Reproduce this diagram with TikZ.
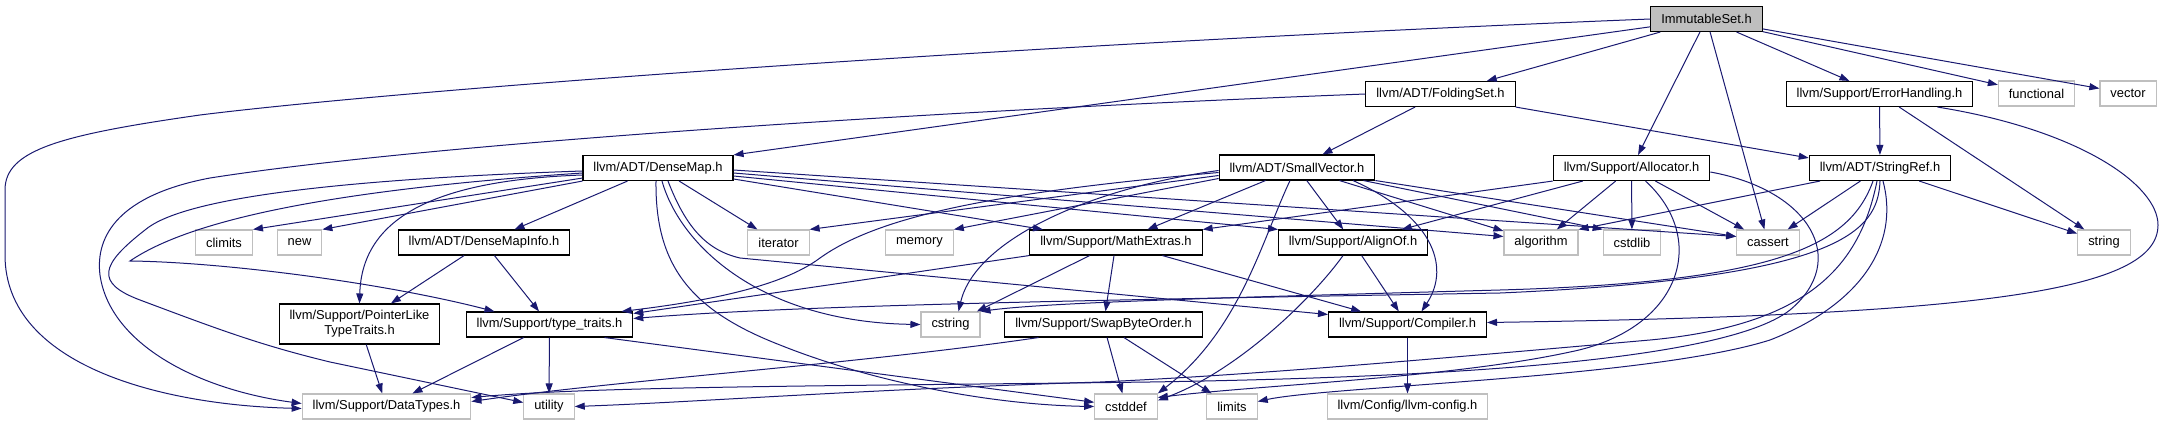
\documentclass[tikz,border=0pt]{standalone}
\usepackage{fontspec}
\setmainfont{Liberation Sans}
\usepackage{xcolor}
\usepackage{tikz}
\usetikzlibrary{arrows.meta}

\definecolor{edgeblue}{HTML}{191970}
\definecolor{sysgray}{HTML}{BFBFBF}

\begin{document}
\begin{tikzpicture}[
  x=1pt, y=-1pt,
  every node/.style={font=\fontsize{12.9}{15}\selectfont, inner xsep=10.5pt, inner ysep=0pt, minimum height=25pt, line width=1.1pt},
  hdr/.style={draw=black},
  sys/.style={draw=sysgray},
  dep/.style={-{Triangle[length=10pt,width=7pt]}, draw=edgeblue, fill=none, line width=1pt}
]
  \useasboundingbox (0,0) rectangle (2164,425);

  \node[hdr, fill=sysgray] (imm) at (1706.5,19) {ImmutableSet.h};
  \node[hdr] (folding) at (1440.5,94) {llvm/ADT/FoldingSet.h};
  \node[hdr] (errh) at (1879.5,94) {llvm/Support/ErrorHandling.h};
  \node[sys] (functional) at (2036.5,93.5) {functional};
  \node[sys] (vector) at (2128,93.5) {vector};
  \node[hdr] (densemap) at (658,168) {llvm/ADT/DenseMap.h};
  \node[hdr] (smallvec) at (1297,167.5) {llvm/ADT/SmallVector.h};
  \node[hdr] (alloc) at (1631.5,168) {llvm/Support/Allocator.h};
  \node[hdr] (stringref) at (1880,168) {llvm/ADT/StringRef.h};
  \node[sys] (climits) at (224,242.5) {climits};
  \node[sys] (new) at (299.5,242.5) {new};
  \node[hdr] (densemapinfo) at (484,242.5) {llvm/ADT/DenseMapInfo.h};
  \node[sys] (iterator) at (778.5,242.5) {iterator};
  \node[sys] (memory) at (919.5,242.5) {memory};
  \node[hdr] (mathextras) at (1116,242.5) {llvm/Support/MathExtras.h};
  \node[hdr] (alignof) at (1353,242.5) {llvm/Support/AlignOf.h};
  \node[sys] (algorithm) at (1541,242.5) {algorithm};
  \node[sys] (cstdlib) at (1632,242.5) {cstdlib};
  \node[sys] (cassert) at (1768,242.5) {cassert};
  \node[sys] (string) at (2104,242.5) {string};
  \node[hdr, align=center, minimum height=40pt] (pointerlike) at (359.5,324) {llvm/Support/PointerLike\\TypeTraits.h};
  \node[hdr] (typetraits) at (549.5,324.5) {llvm/Support/type\_traits.h};
  \node[sys] (cstring) at (950.5,324.5) {cstring};
  \node[hdr] (swapbyte) at (1103.5,324.5) {llvm/Support/SwapByteOrder.h};
  \node[hdr] (compiler) at (1407.5,324.5) {llvm/Support/Compiler.h};
  \node[sys] (datatypes) at (386.5,406.5) {llvm/Support/DataTypes.h};
  \node[sys] (utility) at (549,406.5) {utility};
  \node[sys] (cstddef) at (1126,406.5) {cstddef};
  \node[sys] (limits) at (1232,406.5) {limits};
  \node[sys] (llvmconfig) at (1407.5,406.5) {llvm/Config/llvm-config.h};

  \draw[dep] (imm.west) .. controls (1000,45) and (400,90) .. (200,115) .. controls (60,135) and (5,150) .. (5,190) -- (5,255) .. controls (5,365) and (160,405) .. ([yshift=-2]datatypes.west);
  \draw[dep] (imm) -- (densemap.north east);
  \draw[dep] (imm) -- (folding);
  \draw[dep] (imm) -- (alloc);
  \draw[dep] (imm) -- (cassert);
  \draw[dep] (imm) -- (errh);
  \draw[dep] (imm) -- (functional);
  \draw[dep] (imm) -- (vector);

  \draw[dep] (folding.west) .. controls (900,112) and (420,145) .. (210,178) .. controls (120,195) and (95,235) .. (100,275) .. controls (110,345) and (200,390) .. ([yshift=3]datatypes.west);
  \draw[dep] (folding) -- (smallvec);
  \draw[dep] (folding.south east) -- ([yshift=-3]stringref.north west);

  \draw[dep] (errh) -- (stringref);
  \draw[dep] (errh) -- (string);
  \draw[dep] ([xshift=58]errh.south) .. controls (2080,130) and (2158,185) .. (2158,225) .. controls (2158,290) and (1990,315) .. ([yshift=2]compiler.east);

  \draw[dep] ([yshift=3]densemap.south west) -- (climits.north east);
  \draw[dep] (densemap.south west) -- (new.north east);
  \draw[dep] (densemap) -- (densemapinfo);
  \draw[dep] ([yshift=-7]densemap.west) .. controls (440,180) and (362,215) .. (pointerlike.north);
  \draw[dep] ([yshift=-5]densemap.west) .. controls (330,190) and (190,220) .. (130,261) .. controls (220,262) and (380,282) .. ([xshift=-55]typetraits.north);
  \draw[dep] ([yshift=-3]densemap.west) .. controls (320,180) and (180,200) .. (145,230) .. controls (100,265) and (95,283) .. (140,300) .. controls (220,330) and (260,345) .. (330,362) -- ([yshift=4]utility.west);
  \draw[dep] ([xshift=-2]densemap.south) .. controls (655,265) and (690,310) .. (780,345) .. controls (880,385) and (1000,405) .. (cstddef.west);
  \draw[dep] ([xshift=4]densemap.south) .. controls (680,245) and (760,322) .. (cstring.west);
  \draw[dep] ([xshift=10]densemap.south) .. controls (685,225) and (705,250) .. (740,258) -- ([yshift=10]compiler.west);
  \draw[dep] (densemap) -- (iterator);
  \draw[dep] ([yshift=-11]densemap.east) -- ([xshift=-73]mathextras.north);
  \draw[dep] ([yshift=-8]densemap.east) -- ([xshift=-75]alignof.north);
  \draw[dep] ([yshift=-5]densemap.east) -- ([yshift=6]algorithm.west);
  \draw[dep] ([yshift=-2]densemap.east) -- ([yshift=6]cassert.west);

  \draw[dep] (densemapinfo) -- (pointerlike);
  \draw[dep] (densemapinfo) -- (typetraits);
  \draw[dep] (pointerlike) -- (datatypes);
  \draw[dep] (typetraits) -- (datatypes);
  \draw[dep] (typetraits) -- (utility);
  \draw[dep] ([xshift=55]typetraits.south) -- (cstddef);

  \draw[dep] ([yshift=-3]smallvec.west) .. controls (1090,188) and (975,240) .. ([xshift=8]cstring.north);
  \draw[dep] ([yshift=-5]smallvec.west) .. controls (1000,192) and (880,215) .. (820,258) .. controls (780,288) and (700,302) .. ([xshift=72]typetraits.north);
  \draw[dep] ([yshift=-8]smallvec.west) -- (iterator.north east);
  \draw[dep] ([yshift=-11]smallvec.west) -- (memory.north east);
  \draw[dep] (smallvec) -- (mathextras);
  \draw[dep] (smallvec) -- (alignof);
  \draw[dep] (smallvec) -- (algorithm);
  \draw[dep] ([xshift=-12]smallvec.south east) -- (cstdlib.north west);
  \draw[dep] (smallvec.south east) -- ([yshift=6]cassert.west);
  \draw[dep] ([xshift=-7]smallvec.south) .. controls (1262,240) and (1240,330) .. (cstddef.north east);
  \draw[dep] ([xshift=56]smallvec.south) .. controls (1430,215) and (1452,265) .. ([xshift=14]compiler.north);

  \draw[dep] (mathextras.south west) -- ([yshift=11]typetraits.east);
  \draw[dep] (mathextras) -- (cstring);
  \draw[dep] (mathextras) -- (swapbyte);
  \draw[dep] (mathextras) -- (compiler);

  \draw[dep] (alignof) -- (compiler);
  \draw[dep] ([xshift=-10]alignof.south) .. controls (1315,295) and (1240,370) .. ([yshift=6]cstddef.east);

  \draw[dep] ([xshift=-65]swapbyte.south) .. controls (850,365) and (620,380) .. ([yshift=5]datatypes.east);
  \draw[dep] (swapbyte) -- (cstddef);
  \draw[dep] (swapbyte) -- (limits);

  \draw[dep] (compiler) -- (llvmconfig);

  \draw[dep] (alloc.south west) -- (mathextras.north east);
  \draw[dep] (alloc) -- (alignof);
  \draw[dep] (alloc) -- (algorithm);
  \draw[dep] (alloc) -- (cstdlib);
  \draw[dep] (alloc) -- (cassert);
  \draw[dep] ([xshift=14]alloc.south) .. controls (1710,240) and (1680,330) .. (1570,352) .. controls (1450,378) and (1260,385) .. ([yshift=9]cstddef.east);
  \draw[dep] ([yshift=-4]alloc.east) .. controls (1810,190) and (1850,260) .. (1790,310) .. controls (1720,365) and (1400,378) .. (1150,382) .. controls (850,386) and (600,386) .. ([yshift=9]datatypes.east);

  \draw[dep] ([xshift=-60]stringref.south) -- (algorithm.north east);
  \draw[dep] (stringref) -- (cassert);
  \draw[dep] (stringref) -- (string);
  \draw[dep] ([xshift=-7]stringref.south) .. controls (1850,245) and (1780,282) .. (1500,290) .. controls (1250,297) and (1050,302) .. (cstring.north east);
  \draw[dep] (stringref.south) .. controls (1878,232) and (1840,278) .. (1500,293) .. controls (1100,300) and (800,305) .. ([yshift=6]typetraits.east);
  \draw[dep] ([xshift=-3]stringref.south) .. controls (1860,265) and (1810,325) .. (1650,340) .. controls (1400,362) and (1250,375) .. (1100,382) .. controls (850,390) and (700,402) .. (utility.east);
  \draw[dep] ([xshift=3]stringref.south) .. controls (1900,245) and (1860,305) .. (1770,340) .. controls (1650,378) and (1330,386) .. ([yshift=5]limits.east);
\end{tikzpicture}
\end{document}
